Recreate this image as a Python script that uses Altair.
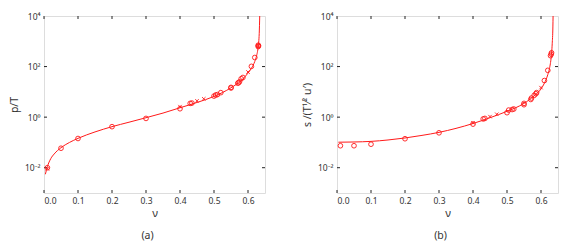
import altair as alt
import pandas as pd

# ---------------- data ----------------
# panel (a): p/T
a_curve_nu = [0.004, 0.01, 0.02, 0.03, 0.05, 0.075, 0.1, 0.15, 0.2, 0.25, 0.3, 0.35, 0.4,
              0.45, 0.5, 0.55, 0.58, 0.6, 0.61, 0.62, 0.625, 0.63, 0.633, 0.6345]
a_curve_val = [0.0055, 0.011, 0.023, 0.035, 0.062, 0.1, 0.145, 0.26, 0.42, 0.63, 0.95, 1.45, 2.35,
               3.8, 6.6, 14.5, 28, 55, 85, 160, 260, 620, 2000, 10000]
a_circ_nu = [0.01, 0.05, 0.1, 0.2, 0.3, 0.4, 0.43, 0.435, 0.5, 0.505, 0.51, 0.52, 0.55, 0.55,
             0.57, 0.572, 0.575, 0.58, 0.585, 0.61, 0.62, 0.63, 0.63, 0.631]
a_circ_val = [0.01, 0.059, 0.143, 0.42, 0.89, 2.15, 3.5, 3.6, 6.8, 7.5, 7.8, 9.3, 14.2, 15.0,
              22, 23, 25, 33, 37, 102, 228, 620, 700, 660]
a_x_nu = [0.01, 0.4, 0.45, 0.47, 0.6, 0.63]
a_x_val = [0.009, 2.6, 4.4, 5.3, 61, 650]

# panel (b): s/(T^1/2 u')
b_curve_nu = [0.004, 0.05, 0.1, 0.15, 0.2, 0.25, 0.3, 0.35, 0.4, 0.45, 0.5, 0.55, 0.58,
              0.6, 0.61, 0.62, 0.625, 0.63, 0.633, 0.635, 0.6355]
b_curve_val = [0.102, 0.104, 0.11, 0.125, 0.15, 0.19, 0.25, 0.36, 0.56, 0.95, 1.7, 3.5, 7.0,
               13, 22, 48, 85, 240, 800, 4000, 10000]
b_circ_nu = [0.01, 0.05, 0.1, 0.2, 0.3, 0.4, 0.43, 0.435, 0.5, 0.505, 0.515, 0.52, 0.55, 0.55,
             0.57, 0.572, 0.58, 0.585, 0.587, 0.61, 0.62, 0.628, 0.63, 0.631]
b_circ_val = [0.074, 0.074, 0.085, 0.14, 0.24, 0.53, 0.85, 0.89, 1.5, 1.9, 2.0, 2.1, 3.1, 3.5,
              5.0, 5.7, 7.3, 8.4, 9.3, 28, 71, 270, 310, 350]
b_x_nu = [0.4, 0.45, 0.47, 0.6]
b_x_val = [0.6, 1.05, 1.3, 14.7]

x_ticks = [0.0, 0.1, 0.2, 0.3, 0.4, 0.5, 0.6]
y_ticks = [0.01, 1, 100, 10000]
y_tick_labels = ["10\u207b\u00b2", "10\u2070", "10\u00b2", "10\u2074"]

# ---------------- styling ----------------
RED = "#ff1a1a"
FONT = "Noto Sans"
W, H = 221, 177
X_DOMAIN = [0, 0.65]
Y_DOMAIN = [0.001, 10000]

label_expr = " : ".join(
    f"datum.value == {v} ? '{l}'" for v, l in zip(y_ticks, y_tick_labels)
) + " : ''"


def enc_x():
    return alt.X("nu:Q", title="\u03bd",
                 scale=alt.Scale(domain=X_DOMAIN, nice=False, zero=False),
                 axis=alt.Axis(values=x_ticks, format=".1f", grid=False, domain=False,
                               ticks=False, labelPadding=3, titlePadding=3,
                               labelFontSize=8.5, titleFontSize=11, labelColor="#333",
                               titleColor="#333", titleFontWeight="normal",
                               labelFont=FONT, titleFont=FONT))


def enc_y(title):
    return alt.Y("val:Q", title=title,
                 scale=alt.Scale(type="log", domain=Y_DOMAIN, nice=False),
                 axis=alt.Axis(values=y_ticks, labelExpr=label_expr, grid=False,
                               domain=False, ticks=False, labelPadding=4, titlePadding=5,
                               labelFontSize=8.5, titleFontSize=10.5, labelColor="#333",
                               titleColor="#333", titleFontWeight="normal",
                               labelFont=FONT, titleFont=FONT, labelFlush=False))


def panel(cnu, cval, pnu, pval, xnu, xval, ytitle, caption, dx):
    curve = alt.Chart(pd.DataFrame({"nu": cnu, "val": cval})).mark_line(
        color=RED, strokeWidth=1, interpolate="monotone", clip=True
    ).encode(x=enc_x(), y=enc_y(ytitle))
    circ = alt.Chart(pd.DataFrame({"nu": pnu, "val": pval})).mark_point(
        shape="circle", filled=False, color=RED, size=22, strokeWidth=0.9, opacity=1
    ).encode(x=enc_x(), y=enc_y(ytitle))
    cross = alt.Chart(pd.DataFrame({"nu": xnu, "val": xval})).mark_point(
        shape="M-1,-1L1,1M-1,1L1,-1", filled=False, color=RED, size=12, strokeWidth=0.9,
        opacity=1
    ).encode(x=enc_x(), y=enc_y(ytitle))
    xt = pd.DataFrame({"nu": x_ticks})
    yt = pd.DataFrame({"val": y_ticks[:-1]})
    tb = alt.Chart(xt).mark_rule(color="#222", strokeWidth=1).encode(
        x=enc_x(), y=alt.value(H), y2=alt.value(H - 3))
    tt = alt.Chart(xt).mark_rule(color="#222", strokeWidth=1).encode(
        x=enc_x(), y=alt.value(0), y2=alt.value(3))
    tl = alt.Chart(yt).mark_rule(color="#222", strokeWidth=1).encode(
        y=enc_y(ytitle), x=alt.value(0), x2=alt.value(3))
    tr = alt.Chart(yt).mark_rule(color="#222", strokeWidth=1).encode(
        y=enc_y(ytitle), x=alt.value(W), x2=alt.value(W - 3))
    return alt.layer(curve, tb, tt, tl, tr, circ, cross).properties(
        width=W, height=H,
        title=alt.TitleParams(caption, orient="bottom", anchor="middle", frame="group",
                              offset=12, dx=dx, fontSize=10.5, font=FONT,
                              fontWeight="normal", color="#333"))


pa = panel(a_curve_nu, a_curve_val, a_circ_nu, a_circ_val, a_x_nu, a_x_val,
           "p/T", "(a)", -7)
pb = panel(b_curve_nu, b_curve_val, b_circ_nu, b_circ_val, b_x_nu, b_x_val,
           "s /(T\u00b9\u2044\u00b2 u\u2032)", "(b)", -7)

chart = alt.hconcat(pa, pb, spacing=35).properties(
    padding={"left": 0, "top": 3, "right": 0, "bottom": 0}
).configure_view(stroke="#707070", strokeWidth=1.5).configure(background="white")

chart.save("out.html", embed_options={"renderer": "svg", "actions": False})
